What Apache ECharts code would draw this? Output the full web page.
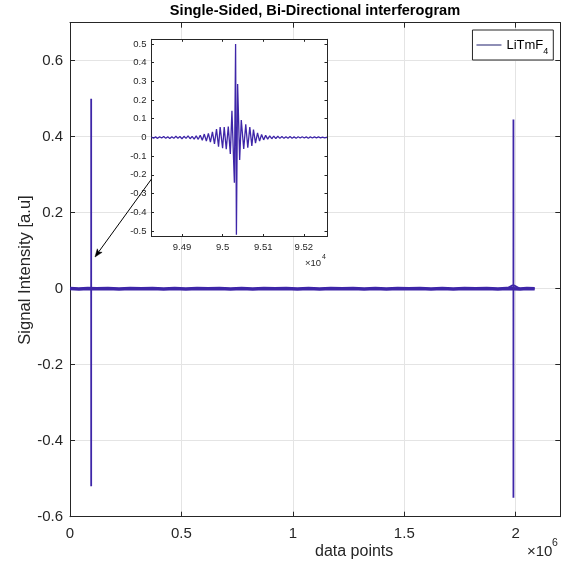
<!DOCTYPE html>
<html>
<head>
<meta charset="utf-8">
<script src="https://cdn.jsdelivr.net/npm/echarts@6/dist/echarts.min.js"></script>
<style>
html,body{margin:0;padding:0;background:#fff;}
#chart{width:588px;height:572px;}
</style>
</head>
<body>
<div id="chart"></div>
<script>
// ---------- data ----------
const title = 'Single-Sided, Bi-Directional interferogram';
const seriesName = 'LiTmF4';
const xLabel = 'data points';
const yLabel = 'Signal Intensity [a.u]';

// main axis ticks
const mainXTicks = [0, 500000, 1000000, 1500000, 2000000];
const mainYTicks = [-0.6, -0.4, -0.2, 0, 0.2, 0.4, 0.6];

// low-level noise band across the record (x, y)
const bandX = [0, 40000, 80000, 120000, 170000, 220000, 270000, 320000, 370000, 420000, 470000, 520000, 570000, 620000, 670000, 720000, 770000, 820000, 870000, 920000, 970000, 1020000, 1070000, 1120000, 1170000, 1220000, 1270000, 1320000, 1370000, 1420000, 1470000, 1520000, 1570000, 1620000, 1670000, 1720000, 1770000, 1820000, 1870000, 1920000, 1960000, 2020000, 2050000, 2085000];
const bandY = [0.0006, -0.0005, 0.0007, -0.0004, 0.0005, -0.0006, 0.0006, -0.0004, 0.0005, -0.0006, 0.0004, -0.0005, 0.0006, -0.0004, 0.0005, -0.0006, 0.0004, -0.0005, 0.0006, -0.0004, 0.0005, -0.0006, 0.0004, -0.0005, 0.0006, -0.0004, 0.0005, -0.0006, 0.0004, -0.0005, 0.0006, -0.0004, 0.0005, -0.0006, 0.0004, -0.0005, 0.0006, -0.0004, 0.0005, -0.0006, 0.0004, -0.0005, 0.0006, 0.0];

// forward-direction burst (shown in the inset), x = data point index
const burstX = [94825, 94830, 94835, 94840, 94845, 94850, 94855, 94860, 94865, 94870, 94875, 94880, 94885, 94890, 94895, 94900, 94905, 94910, 94915, 94920, 94925, 94930, 94935, 94940, 94945, 94950, 94955, 94960, 94965, 94970, 94975, 94980, 94985, 94990, 94994, 95000, 95004, 95009, 95014, 95019, 95023, 95029, 95032, 95034, 95037, 95042, 95046, 95052, 95057, 95062, 95067, 95072, 95076, 95081, 95086, 95091, 95096, 95101, 95106, 95111, 95116, 95121, 95126, 95131, 95136, 95141, 95146, 95151, 95156, 95161, 95166, 95171, 95176, 95181, 95186, 95191, 95196, 95201, 95206, 95211, 95216, 95221, 95226, 95231, 95236, 95241, 95246, 95251, 95257];
const burstY = [0.002, -0.004, 0.003, -0.005, 0.004, -0.003, 0.005, -0.004, 0.003, -0.006, 0.004, -0.005, 0.006, -0.004, 0.005, -0.007, 0.006, -0.005, 0.008, -0.007, 0.006, -0.009, 0.008, -0.01, 0.012, -0.015, 0.018, -0.02, 0.022, -0.025, 0.03, -0.035, 0.045, -0.05, 0.055, -0.058, 0.056, -0.063, 0.058, -0.088, 0.143, -0.242, 0.5, -0.52, 0.286, -0.12, 0.093, -0.062, 0.07, -0.055, 0.055, -0.045, 0.042, -0.03, 0.024, -0.02, 0.016, -0.013, 0.011, -0.009, 0.008, -0.007, 0.007, -0.006, 0.006, -0.005, 0.005, -0.005, 0.004, -0.004, 0.005, -0.004, 0.003, -0.004, 0.004, -0.003, 0.004, -0.003, 0.003, -0.004, 0.003, -0.003, 0.003, -0.002, 0.003, -0.002, 0.002, -0.002, 0.001];

// reverse-direction burst near the end of the record
const burst2X = [1989600, 1989640, 1989660, 1989680, 1989700, 1989720, 1989740, 1989760, 1989800];
const burst2Y = [0.01, -0.06, 0.12, -0.21, 0.445, -0.55, 0.25, -0.1, 0.01];

// inset axis range
const insetXRange = [94825, 95257];
const insetYRange = [-0.53, 0.525];

// ---------- build ----------
function pairs(xs, ys) { return xs.map((x, i) => [x, ys[i]]); }
const bandData = pairs(bandX, bandY);
const allData = bandData.concat(pairs(burstX, burstY), pairs(burst2X, burst2Y)).sort((a, b) => a[0] - b[0]);
const insetData = pairs(burstX, burstY);

const FONT = '"Liberation Sans", Arial, Helvetica, sans-serif';
const AX = '#262626';
const GRIDC = '#e4e4e4';
const LINE = '#3e26a8';

const chart = echarts.init(document.getElementById('chart'), null, {renderer: 'canvas'});

const mainG = {left: 70, top: 22.7, width: 490.3, height: 494};
const insG = {left: 151.5, top: 39.3, width: 175.5, height: 197.2};

function axisCommon(extra) {
  return Object.assign({
    axisLine: {show: true, onZero: false, lineStyle: {color: AX, width: 1}},
    axisTick: {show: true, inside: true, length: 5, lineStyle: {color: AX}},
    splitLine: {show: false},
    axisLabel: {show: false}
  }, extra);
}

const option = {
  animation: false,
  backgroundColor: '#fff',
  title: {
    text: title, left: 315, top: 3, padding: 0, textAlign: 'center',
    textStyle: {fontFamily: FONT, fontSize: 14.6, fontWeight: 'bold', color: '#000'}
  },
  legend: {
    data: [seriesName], right: 34.7, top: 30,
    backgroundColor: '#fff', borderColor: AX, borderWidth: 1,
    padding: [4, 5, 4, 4], itemWidth: 25, itemHeight: 1, itemGap: 5,
    icon: 'rect',
    itemStyle: {color: '#1c1c6a'},
    formatter: () => '{a|LiTmF}{b|4}',
    textStyle: {
      fontFamily: FONT, color: '#000',
      rich: {
        a: {fontFamily: FONT, fontSize: 13, color: '#000', lineHeight: 18},
        b: {fontFamily: FONT, fontSize: 9, color: '#000', lineHeight: 18, padding: [13, 0, 0, 0]}
      }
    }
  },
  grid: [
    Object.assign({show: false}, mainG),
    Object.assign({show: true, backgroundColor: '#fff', borderWidth: 0, z: 5}, insG)
  ],
  xAxis: [
    axisCommon({
      type: 'value', gridIndex: 0, position: 'bottom', min: 0, max: 2200000, interval: 500000,
      splitLine: {show: true, lineStyle: {color: GRIDC, width: 1}},
      axisLabel: {show: true, showMaxLabel: false, color: AX, fontFamily: FONT, fontSize: 15, margin: 10,
        formatter: v => String(+(v / 1e6).toFixed(3))}
    }),
    axisCommon({type: 'value', gridIndex: 0, position: 'top', min: 0, max: 2200000, interval: 500000}),
    axisCommon({
      type: 'value', gridIndex: 1, position: 'bottom', min: insetXRange[0], max: insetXRange[1], splitNumber: 4,
      z: 6,
      axisTick: {show: true, inside: true, length: 2.5, lineStyle: {color: AX}},
      axisLabel: {show: true, showMinLabel: false, showMaxLabel: false, color: AX, fontFamily: FONT, fontSize: 9.5, margin: 6,
        formatter: v => String(+(v / 1e4).toFixed(4))}
    }),
    axisCommon({type: 'value', gridIndex: 1, position: 'top', min: insetXRange[0], max: insetXRange[1], splitNumber: 4, z: 6,
      axisTick: {show: true, inside: true, length: 2.5, lineStyle: {color: AX}}})
  ],
  yAxis: [
    axisCommon({
      type: 'value', gridIndex: 0, position: 'left', min: -0.6, max: 0.7, interval: 0.2,
      splitLine: {show: true, lineStyle: {color: GRIDC, width: 1}},
      axisLabel: {show: true, showMaxLabel: false, color: AX, fontFamily: FONT, fontSize: 15, margin: 7,
        formatter: v => String(+v.toFixed(2))}
    }),
    axisCommon({type: 'value', gridIndex: 0, position: 'right', min: -0.6, max: 0.7, interval: 0.2}),
    axisCommon({
      type: 'value', gridIndex: 1, position: 'left', min: insetYRange[0], max: insetYRange[1], splitNumber: 10,
      z: 6,
      axisTick: {show: true, inside: true, length: 2.5, lineStyle: {color: AX}},
      axisLabel: {show: true, showMinLabel: false, showMaxLabel: false, color: AX, fontFamily: FONT, fontSize: 9.5, margin: 5,
        formatter: v => String(+v.toFixed(2))}
    }),
    axisCommon({type: 'value', gridIndex: 1, position: 'right', min: insetYRange[0], max: insetYRange[1], splitNumber: 10, z: 6,
      axisTick: {show: true, inside: true, length: 2.5, lineStyle: {color: AX}}})
  ],
  series: [
    {
      name: seriesName, type: 'line', xAxisIndex: 0, yAxisIndex: 0, data: bandData,
      showSymbol: false, symbol: 'none', lineStyle: {color: LINE, width: 3.5}, itemStyle: {color: '#1c1c6a'},
      z: 2, silent: true
    },
    {
      name: seriesName, type: 'line', xAxisIndex: 0, yAxisIndex: 0, data: allData,
      showSymbol: false, symbol: 'none', lineStyle: {color: LINE, width: 1.8}, itemStyle: {color: '#1c1c6a'},
      z: 3, silent: true
    },
    {
      name: 'inset', type: 'line', xAxisIndex: 2, yAxisIndex: 2, data: insetData,
      showSymbol: false, symbol: 'none', lineStyle: {color: LINE, width: 1.3}, z: 7, silent: true,
      clip: true
    }
  ],
  graphic: [
    {type: 'text', left: 315, top: 544, z: 10,
      style: {text: xLabel, fontFamily: FONT, fontSize: 16, fill: AX, textAlign: 'center'}},
    {type: 'text', x: 25, y: 270, rotation: Math.PI / 2, z: 10,
      style: {text: yLabel, fontFamily: FONT, fontSize: 16.6, fill: AX, textAlign: 'center', textVerticalAlign: 'middle'}},
    {type: 'text', x: 527, y: 552, z: 10,
      style: {text: '\u00d710', fontFamily: FONT, fontSize: 15, fill: AX, textVerticalAlign: 'middle'}},
    {type: 'text', x: 552, y: 543, z: 10,
      style: {text: '6', fontFamily: FONT, fontSize: 10.5, fill: AX, textVerticalAlign: 'middle'}},
    {type: 'text', x: 305, y: 263, z: 10,
      style: {text: '\u00d710', fontFamily: FONT, fontSize: 9.5, fill: AX, textVerticalAlign: 'middle'}},
    {type: 'text', x: 322, y: 257.5, z: 10,
      style: {text: '4', fontFamily: FONT, fontSize: 7, fill: AX, textVerticalAlign: 'middle'}},
    {type: 'line', z: 10, shape: {x1: 151.5, y1: 179, x2: 98.5, y2: 252.1},
      style: {stroke: '#000', lineWidth: 1}},
    {type: 'polygon', z: 10, shape: {points: [[95, 257], [102.1, 252.3], [98.5, 252.1], [97.3, 248.8]]},
      style: {fill: '#000', stroke: '#000', lineWidth: 0.5}}
  ]
};
chart.setOption(option);
</script>
</body>
</html>
